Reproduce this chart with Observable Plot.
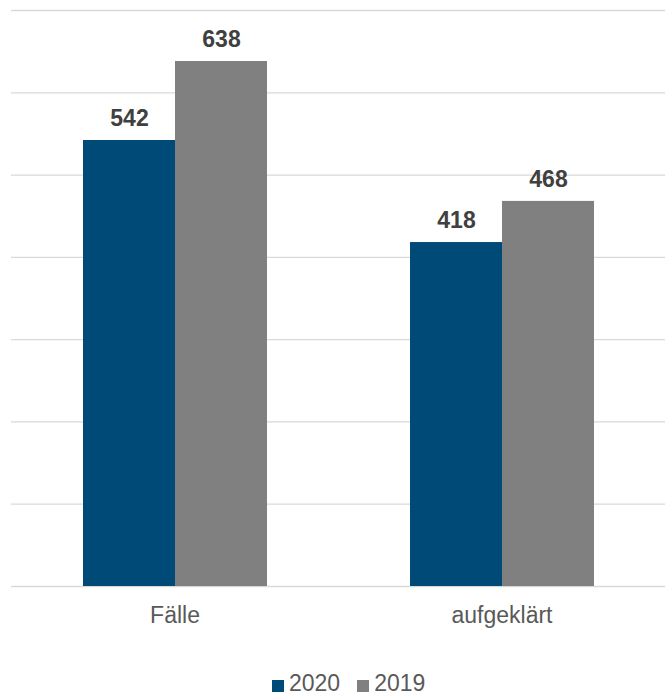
<!DOCTYPE html>
<html>
<head>
<meta charset="utf-8">
<script src="https://cdn.jsdelivr.net/npm/d3@7"></script>
<script src="https://cdn.jsdelivr.net/npm/@observablehq/plot@0.6"></script>
<style>
  html, body { margin: 0; padding: 0; background: #fff; }
  #wrap { position: relative; width: 665px; height: 695px; overflow: hidden; font-family: "Liberation Sans", Arial, sans-serif; }
  #legend { position: absolute; left: 272px; top: 672px; display: flex; align-items: baseline; font-size: 23px; line-height: 23px; color: #595959; }
  .item { display: flex; align-items: baseline; margin-right: 17px; }
  .sw { display: inline-block; width: 12px; height: 12px; margin-right: 5px; position: relative; top: 1px; }
</style>
</head>
<body>
<div id="wrap"></div>
<script>
const categories = ["Fälle", "aufgeklärt"];
const years = ["2020", "2019"];
const values2020 = [542, 418];
const values2019 = [638, 468];
const colors = ["#004a77", "#808080"];
const yTicks = [0, 100, 200, 300, 400, 500, 600, 700];

const data = [];
categories.forEach((c, i) => {
  data.push({category: c, year: years[0], value: values2020[i]});
  data.push({category: c, year: years[1], value: values2019[i]});
});

const chart = Plot.plot({
  width: 665,
  height: 640,
  marginLeft: 11,
  marginRight: 0,
  marginTop: 10,
  marginBottom: 54,
  style: {fontFamily: "'Liberation Sans', Arial, sans-serif", background: "#fff"},
  fx: {domain: categories, padding: 0, label: null},
  x: {domain: years, paddingInner: 0, paddingOuter: 0.768, axis: null},
  y: {domain: [0, 700], axis: null},
  color: {domain: years, range: colors},
  marks: [
    Plot.ruleY(yTicks, {y: d => d, stroke: "#d9d9d9", strokeWidth: 1.3}),
    Plot.barY(data, {fx: "category", x: "year", y: "value", fill: "year"}),
    Plot.text(data, {fx: "category", x: "year", y: "value", text: d => String(d.value), dy: -22, fill: "#404040", fontSize: 23, fontWeight: "bold"}),
    Plot.axisFx({anchor: "bottom", tickSize: 0, tickPadding: 20, fontSize: 23, fill: "#595959", label: null})
  ]
});

document.getElementById("wrap").appendChild(chart);

const legend = document.createElement("div");
legend.id = "legend";
years.forEach((y, i) => {
  const item = document.createElement("span");
  item.className = "item";
  const sw = document.createElement("span");
  sw.className = "sw";
  sw.style.background = colors[i];
  item.appendChild(sw);
  item.appendChild(document.createTextNode(y));
  legend.appendChild(item);
});
document.getElementById("wrap").appendChild(legend);
</script>
</body>
</html>
